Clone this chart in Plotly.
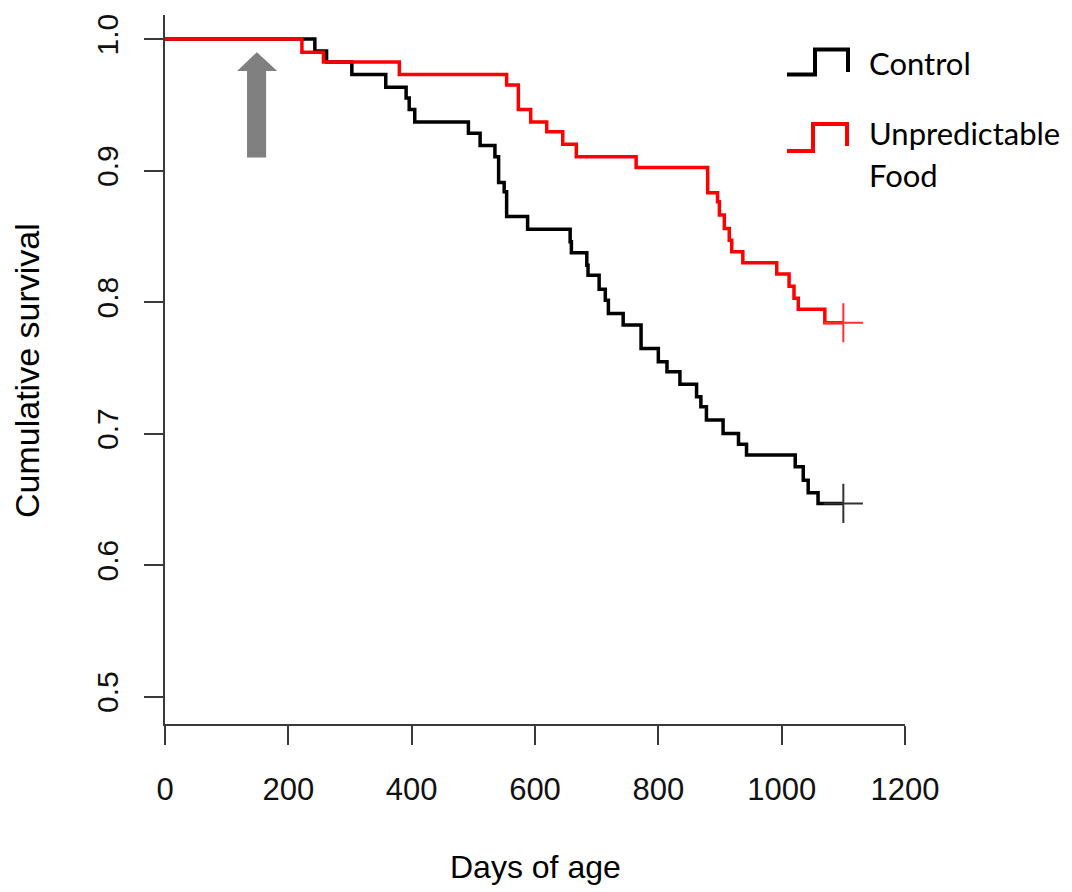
import plotly.graph_objects as go

# Kaplan-Meier style cumulative survival, two treatment groups
control_days = [0, 243, 262, 303, 358, 391, 396, 405, 492, 511, 535, 541, 550, 554, 588,
                657, 659, 684, 686, 704, 714, 719, 743, 772, 800, 814, 835, 862, 869, 878,
                905, 930, 943, 1022, 1035, 1043, 1059, 1100]
control_surv = [1.0, 0.991, 0.9825, 0.973, 0.9633, 0.9552, 0.9464, 0.937, 0.9283, 0.919,
                0.9105, 0.891, 0.884, 0.865, 0.8553, 0.8459, 0.8375, 0.8281, 0.8205, 0.8097,
                0.8015, 0.7914, 0.7825, 0.7648, 0.7546, 0.747, 0.7376, 0.728, 0.7204, 0.7103,
                0.7001, 0.692, 0.6837, 0.6748, 0.6646, 0.655, 0.6469, 0.6469]

food_days = [0, 222, 257, 380, 554, 573, 593, 619, 645, 667, 764, 880, 896, 899, 907,
             915, 919, 937, 992, 1012, 1020, 1027, 1070, 1100]
food_surv = [1.0, 0.990, 0.9825, 0.973, 0.965, 0.9465, 0.937, 0.9295, 0.920, 0.9105,
             0.9024, 0.8831, 0.8763, 0.8662, 0.856, 0.8471, 0.8382, 0.8299, 0.8213, 0.812,
             0.803, 0.7945, 0.7843, 0.7843]

x_ticks = [0, 200, 400, 600, 800, 1000, 1200]
y_ticks = [0.5, 0.6, 0.7, 0.8, 0.9, 1.0]

# treatment start marker (upward block arrow), in data units
arrow_x = [133, 164, 164, 182, 149, 117, 133]
arrow_y = [0.910, 0.910, 0.9757, 0.9757, 0.990, 0.9757, 0.9757]

W, H = 1072, 892
L, R, T, B = 165, 167, 15, 168
AXIS_COL = "#3a3a3a"


def px(xp):
    return (xp - L) / (W - L - R)


def py(yp):
    return (H - B - yp) / (H - T - B)


fig = go.Figure()

fig.add_trace(go.Scatter(x=control_days, y=control_surv, mode="lines", line_shape="hv",
                         line=dict(color="#000000", width=3.5), name="Control",
                         showlegend=False))
fig.add_trace(go.Scatter(x=food_days, y=food_surv, mode="lines", line_shape="hv",
                         line=dict(color="#ff0000", width=3.5), name="Unpredictable Food",
                         showlegend=False))

# censoring marks at end of follow-up
fig.add_trace(go.Scatter(x=[control_days[-1]], y=[control_surv[-1]], mode="markers",
                         marker=dict(symbol="cross-thin", size=28,
                                     line=dict(color="#333333", width=2)),
                         showlegend=False))
fig.add_trace(go.Scatter(x=[food_days[-1]], y=[food_surv[-1]], mode="markers",
                         marker=dict(symbol="cross-thin", size=28,
                                     line=dict(color="#ff3030", width=2)),
                         showlegend=False))

arrow_path = "M " + " L ".join(f"{a},{b}" for a, b in zip(arrow_x, arrow_y)) + " Z"
shapes = [dict(type="path", xref="x", yref="y", path=arrow_path,
               fillcolor="#808080", line=dict(width=0))]


def step_icon(points, color):
    path = "M " + " L ".join(f"{px(a)},{py(b)}" for a, b in points)
    return dict(type="path", xref="paper", yref="paper", path=path,
                line=dict(color=color, width=4), fillcolor="rgba(0,0,0,0)")


shapes.append(step_icon([(787, 74.6), (815, 74.6), (815, 49.6), (848, 49.6), (848, 72)], "#000000"))
shapes.append(step_icon([(787, 151), (813, 151), (813, 124), (847, 124), (847, 146)], "#ff0000"))

legend_font = dict(family="Lato", size=31, color="#000000")
annotations = [
    dict(text="Control", x=px(867), y=py(63), xref="paper", yref="paper",
         xanchor="left", yanchor="middle", showarrow=False, font=legend_font),
    dict(text="Unpredictable", x=px(867), y=py(133), xref="paper", yref="paper",
         xanchor="left", yanchor="middle", showarrow=False, font=legend_font),
    dict(text="Food", x=px(867), y=py(175), xref="paper", yref="paper",
         xanchor="left", yanchor="middle", showarrow=False, font=legend_font),
    dict(text="Days of age", x=px(535), y=py(867), xref="paper", yref="paper",
         xanchor="center", yanchor="middle", showarrow=False,
         font=dict(family="Liberation Sans", size=32, color="#000000")),
    dict(text="Cumulative survival", x=px(27), y=py(371), xref="paper", yref="paper",
         xanchor="center", yanchor="middle", showarrow=False, textangle=-90,
         font=dict(family="Liberation Sans", size=34, color="#000000")),
]

fig.update_layout(
    width=W, height=H,
    margin=dict(l=L, r=R, t=T, b=B, pad=0),
    paper_bgcolor="white", plot_bgcolor="white",
    shapes=shapes, annotations=annotations,
    xaxis=dict(range=[0, 1200], tickvals=x_ticks, showgrid=False, zeroline=False,
               showline=True, linecolor=AXIS_COL, linewidth=2,
               ticks="outside", ticklen=19, tickwidth=2, tickcolor=AXIS_COL,
               ticklabelstandoff=18,
               tickfont=dict(family="Liberation Sans", size=31, color="#111111")),
    yaxis=dict(range=[0.4792, 1.0183], tickvals=y_ticks, tickformat=".1f",
               showgrid=False, zeroline=False,
               showline=True, linecolor=AXIS_COL, linewidth=2,
               ticks="outside", ticklen=19, tickwidth=2, tickcolor=AXIS_COL,
               tickangle=-90, ticklabelstandoff=14,
               tickfont=dict(family="Liberation Sans", size=30, color="#111111")),
)

fig.write_html("out.html")
